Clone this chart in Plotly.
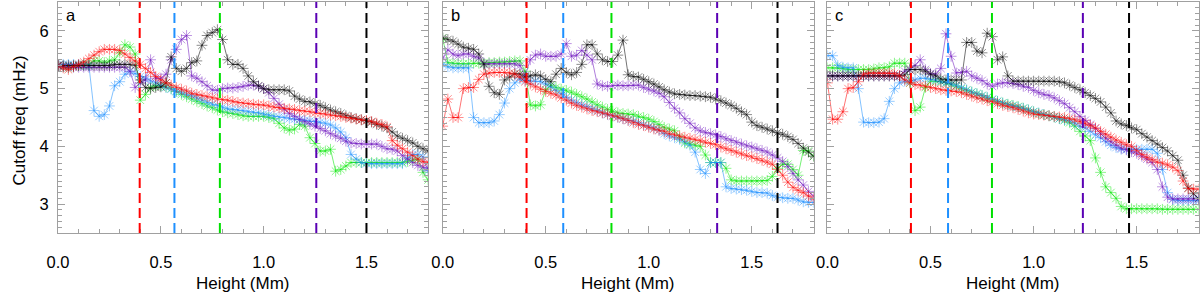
import plotly.graph_objects as go

# ---------------- data ----------------
HEIGHT = [0.0, 0.025, 0.05, 0.075, 0.1, 0.125, 0.15, 0.175, 0.2, 0.225,
          0.25, 0.275, 0.3, 0.325, 0.35, 0.375, 0.4, 0.425, 0.45, 0.475,
          0.5, 0.525, 0.55, 0.575, 0.6, 0.625, 0.65, 0.675, 0.7, 0.725,
          0.75, 0.775, 0.8, 0.825, 0.85, 0.875, 0.9, 0.925, 0.95, 0.975,
          1.0, 1.025, 1.05, 1.075, 1.1, 1.125, 1.15, 1.175, 1.2, 1.225,
          1.25, 1.275, 1.3, 1.325, 1.35, 1.375, 1.4, 1.425, 1.45, 1.475,
          1.5, 1.525, 1.55, 1.575, 1.6, 1.625, 1.65, 1.675, 1.7, 1.725,
          1.75, 1.775, 1.8]

# panel a
A_BLACK = [5.40, 5.40, 5.40, 5.40, 5.40, 5.40, 5.40, 5.40, 5.40, 5.40,
           5.40, 5.42, 5.42, 5.42, 5.42, 5.40, 5.15, 5.02, 5.00, 5.02,
           5.03, 5.10, 5.55, 5.35, 5.30, 5.35, 5.45, 5.48, 5.75, 5.92,
           5.97, 6.02, 5.85, 5.50, 5.42, 5.42, 5.35, 5.22, 5.12, 5.05,
           5.00, 4.98, 4.98, 4.98, 4.98, 4.96, 4.87, 4.82, 4.78, 4.77,
           4.74, 4.71, 4.67, 4.63, 4.60, 4.57, 4.53, 4.50, 4.48, 4.46,
           4.44, 4.42, 4.38, 4.35, 4.32, 4.25, 4.18, 4.14, 4.10, 4.06,
           4.00, 3.96, 3.92]
A_PURPLE = [5.40, 5.38, 5.37, 5.37, 5.37, 5.37, 5.37, 5.37, 5.37, 5.37,
            5.37, 5.37, 5.37, 5.37, 5.30, 5.02, 5.10, 5.15, 5.50, 5.18,
            5.18, 5.25, 5.50, 5.68, 5.85, 5.92, 5.22, 5.18, 5.12, 5.05,
            4.98, 4.97, 5.00, 5.01, 5.01, 5.02, 5.04, 5.06, 5.06, 5.04,
            5.00, 4.93, 4.83, 4.73, 4.64, 4.57, 4.52, 4.47, 4.43, 4.39,
            4.35, 4.31, 4.27, 4.22, 4.18, 4.14, 4.09, 4.06, 4.05, 4.04,
            4.04, 4.04, 4.04, 4.00, 3.96, 3.95, 3.92, 3.84, 3.78, 3.72,
            3.67, 3.64, 3.62]
A_GREEN = [5.40, 5.38, 5.36, 5.38, 5.40, 5.42, 5.42, 5.48, 5.48, 5.45,
           5.48, 5.50, 5.62, 5.76, 5.72, 5.60, 4.80, 4.90, 5.02, 5.05,
           5.05, 5.03, 5.00, 4.95, 4.90, 4.86, 4.82, 4.78, 4.74, 4.70,
           4.67, 4.63, 4.60, 4.58, 4.57, 4.55, 4.53, 4.52, 4.52, 4.52,
           4.52, 4.50, 4.48, 4.40, 4.32, 4.28, 4.30, 4.38, 4.35, 4.15,
           4.05, 3.92, 3.92, 3.95, 3.57, 3.60, 3.66, 3.72, 3.72, 3.72,
           3.72, 3.72, 3.72, 3.72, 3.72, 3.72, 3.72, 3.72, 3.74, 3.76,
           3.78, 3.55, 3.42]
A_BLUE = [5.40, 5.42, 5.42, 5.42, 5.42, 5.41, 5.40, 4.62, 4.52, 4.55,
          4.70, 5.05, 5.12, 5.25, 5.30, 5.26, 5.21, 5.17, 5.13, 5.10,
          5.06, 5.02, 4.99, 4.96, 4.93, 4.90, 4.88, 4.84, 4.80, 4.76,
          4.73, 4.71, 4.68, 4.65, 4.64, 4.63, 4.62, 4.60, 4.59, 4.58,
          4.56, 4.54, 4.52, 4.51, 4.50, 4.48, 4.47, 4.46, 4.45, 4.44,
          4.43, 4.42, 4.40, 4.37, 4.32, 4.25, 4.15, 3.86, 3.78, 3.72,
          3.70, 3.70, 3.70, 3.70, 3.70, 3.70, 3.70, 3.70, 3.80, 3.86,
          3.86, 3.82, 3.58]
A_RED = [5.40, 5.36, 5.33, 5.38, 5.42, 5.46, 5.52, 5.58, 5.64, 5.68,
         5.68, 5.68, 5.66, 5.60, 5.54, 5.48, 5.42, 5.35, 5.28, 5.21,
         5.15, 5.10, 5.06, 5.02, 4.99, 4.96, 4.92, 4.90, 4.88, 4.86,
         4.84, 4.82, 4.81, 4.80, 4.78, 4.76, 4.75, 4.74, 4.73, 4.72,
         4.72, 4.70, 4.68, 4.67, 4.66, 4.65, 4.64, 4.62, 4.61, 4.60,
         4.58, 4.57, 4.56, 4.54, 4.53, 4.52, 4.50, 4.49, 4.47, 4.46,
         4.45, 4.43, 4.40, 4.38, 4.34, 4.10, 4.02, 3.96, 3.90, 3.84,
         3.78, 3.74, 3.72]

# panel b
B_BLACK = [5.88, 5.85, 5.82, 5.77, 5.72, 5.70, 5.68, 5.60, 5.42, 5.04,
           4.93, 4.90, 5.15, 5.20, 5.26, 5.25, 5.20, 5.22, 5.24, 5.22,
           5.16, 5.12, 5.25, 5.35, 5.28, 5.24, 5.28, 5.42, 5.76, 5.76,
           5.60, 5.50, 5.47, 5.47, 5.58, 5.84, 5.24, 5.21, 5.20, 5.16,
           5.12, 5.08, 5.03, 4.98, 4.94, 4.91, 4.90, 4.89, 4.88, 4.88,
           4.87, 4.86, 4.85, 4.82, 4.79, 4.75, 4.71, 4.66, 4.60, 4.55,
           4.42, 4.36, 4.33, 4.30, 4.27, 4.24, 4.21, 4.17, 4.12, 4.05,
           3.97, 3.90, 3.83]
B_PURPLE = [5.53, 5.67, 5.60, 5.57, 5.60, 5.60, 5.56, 5.53, 5.43, 5.43,
            5.43, 5.43, 5.43, 5.43, 5.43, 5.40, 5.22, 5.50, 5.58, 5.60,
            5.56, 5.56, 5.56, 5.60, 5.78, 5.56, 5.58, 5.66, 5.58, 5.50,
            5.08, 5.05, 5.04, 5.05, 5.06, 5.05, 5.05, 5.06, 5.06, 5.02,
            4.99, 4.96, 4.92, 4.86, 4.76, 4.66, 4.58, 4.48, 4.40, 4.32,
            4.27, 4.24, 4.22, 4.20, 4.17, 4.13, 4.10, 4.07, 4.04, 4.01,
            3.99, 3.96, 3.93, 3.90, 3.85, 3.80, 3.74, 3.65, 3.53, 3.42,
            3.33, 3.22, 3.14]
B_GREEN = [5.87, 5.45, 5.44, 5.43, 5.43, 5.43, 5.44, 5.44, 5.44, 5.45,
           5.45, 5.46, 5.46, 5.47, 5.48, 5.48, 5.30, 4.72, 4.70, 4.72,
           4.98, 5.06, 5.02, 4.99, 4.97, 4.94, 4.90, 4.86, 4.82, 4.77,
           4.72, 4.68, 4.64, 4.61, 4.58, 4.57, 4.56, 4.55, 4.52, 4.50,
           4.47, 4.43, 4.38, 4.33, 4.30, 4.27, 4.15, 4.06, 4.04, 4.02,
           4.00, 3.85, 3.72, 3.72, 3.72, 3.62, 3.42, 3.40, 3.40, 3.40,
           3.40, 3.40, 3.40, 3.41, 3.48, 3.62, 3.69, 3.69, 3.60, 3.50,
           3.93, 3.92, 3.83]
B_BLUE = [5.42, 5.38, 5.36, 5.36, 5.36, 5.36, 4.50, 4.41, 4.41, 4.41,
          4.44, 4.55, 4.75, 5.00, 5.10, 5.17, 5.14, 5.13, 5.13, 5.12,
          5.08, 5.03, 4.97, 4.91, 4.85, 4.80, 4.76, 4.72, 4.69, 4.65,
          4.62, 4.58, 4.55, 4.53, 4.50, 4.48, 4.45, 4.44, 4.41, 4.37,
          4.35, 4.32, 4.28, 4.22, 4.18, 4.15, 4.12, 4.08, 4.02, 3.90,
          3.60, 3.53, 3.72, 3.72, 3.72, 3.30, 3.27, 3.26, 3.25, 3.24,
          3.22, 3.20, 3.20, 3.19, 3.15, 3.12, 3.11, 3.10, 3.10, 3.07,
          3.04, 3.03, 3.03]
B_RED = [4.35, 4.82, 4.50, 4.50, 5.00, 5.02, 5.02, 5.16, 5.25, 5.27,
         5.28, 5.28, 5.28, 5.27, 5.25, 5.20, 5.12, 5.08, 5.03, 4.99,
         4.95, 4.92, 4.89, 4.84, 4.80, 4.75, 4.71, 4.68, 4.65, 4.62,
         4.60, 4.58, 4.56, 4.53, 4.51, 4.48, 4.45, 4.41, 4.38, 4.36,
         4.33, 4.30, 4.28, 4.26, 4.22, 4.20, 4.18, 4.16, 4.14, 4.12,
         4.10, 4.07, 4.05, 4.03, 3.99, 3.96, 3.93, 3.90, 3.87, 3.84,
         3.82, 3.79, 3.76, 3.73, 3.69, 3.60, 3.50, 3.38, 3.29, 3.24,
         3.20, 3.14, 3.09]

# panel c
C_BLACK = [5.22, 5.22, 5.22, 5.22, 5.22, 5.22, 5.22, 5.22, 5.22, 5.22,
           5.22, 5.22, 5.22, 5.22, 5.22, 5.24, 5.33, 5.33, 5.33, 5.30,
           5.25, 5.22, 5.17, 5.15, 5.15, 5.15, 5.15, 5.80, 5.80, 5.65,
           5.62, 5.96, 5.90, 5.50, 5.55, 5.22, 5.13, 5.13, 5.13, 5.13,
           5.13, 5.13, 5.13, 5.13, 5.13, 5.12, 5.10, 5.06, 5.02, 4.98,
           4.93, 4.88, 4.83, 4.77, 4.68, 4.58, 4.44, 4.39, 4.36, 4.32,
           4.29, 4.22, 4.16, 4.10, 4.04, 3.98, 3.92, 3.84, 3.76, 3.50,
           3.28, 3.18, 3.10]
C_PURPLE = [5.22, 5.22, 5.22, 5.22, 5.22, 5.22, 5.22, 5.22, 5.22, 5.22,
            5.22, 5.22, 5.22, 5.22, 5.22, 5.30, 5.33, 5.40, 5.50, 5.33,
            5.26, 5.25, 5.35, 5.95, 5.56, 5.27, 5.28, 5.30, 5.22, 5.18,
            5.14, 5.08, 5.04, 5.08, 5.10, 5.10, 5.09, 5.07, 5.04, 5.02,
            4.97, 4.93, 4.90, 4.88, 4.84, 4.79, 4.74, 4.67, 4.60, 4.52,
            4.45, 4.38, 4.31, 4.22, 4.14, 4.08, 4.02, 3.97, 3.94, 3.91,
            3.88, 3.83, 3.78, 3.72, 3.60, 3.30, 3.12, 3.09, 3.09, 3.09,
            3.09, 3.09, 3.09]
C_GREEN = [5.36, 5.36, 5.36, 5.35, 5.33, 5.33, 5.33, 5.33, 5.33, 5.34,
           5.36, 5.36, 5.38, 5.44, 5.44, 5.44, 5.10, 4.62, 4.68, 5.02,
           5.13, 5.13, 5.12, 5.10, 5.07, 5.04, 5.00, 4.97, 4.94, 4.91,
           4.88, 4.84, 4.81, 4.78, 4.75, 4.73, 4.71, 4.69, 4.66, 4.63,
           4.60, 4.57, 4.55, 4.53, 4.51, 4.48, 4.45, 4.41, 4.35, 4.26,
           4.18, 4.10, 3.80, 3.55, 3.30, 3.20, 3.10, 2.96, 2.92, 2.92,
           2.92, 2.92, 2.92, 2.92, 2.92, 2.91, 2.91, 2.91, 2.91, 2.91,
           2.91, 2.91, 2.91]
C_BLUE = [5.57, 5.57, 5.40, 5.37, 5.36, 5.36, 5.00, 4.42, 4.41, 4.41,
          4.42, 4.48, 4.78, 5.00, 5.10, 5.13, 5.13, 5.15, 5.18, 5.18,
          5.16, 5.15, 5.12, 5.10, 5.08, 5.05, 5.02, 4.98, 4.94, 4.91,
          4.88, 4.85, 4.82, 4.78, 4.75, 4.72, 4.70, 4.68, 4.66, 4.63,
          4.60, 4.58, 4.55, 4.53, 4.51, 4.48, 4.46, 4.44, 4.40, 4.35,
          4.32, 4.26, 4.20, 4.15, 4.08, 4.02, 3.98, 3.95, 3.95, 3.95,
          3.95, 3.95, 3.95, 3.95, 3.88, 3.60, 3.20, 3.08, 3.06, 3.06,
          3.06, 3.06, 3.06]
C_RED = [5.10, 4.47, 4.47, 4.60, 5.00, 5.02, 5.12, 5.25, 5.27, 5.27,
         5.27, 5.27, 5.27, 5.26, 5.22, 5.15, 5.10, 5.07, 5.06, 5.04,
         5.02, 5.00, 4.98, 4.97, 4.96, 4.95, 4.93, 4.90, 4.87, 4.84,
         4.82, 4.79, 4.77, 4.74, 4.71, 4.69, 4.67, 4.64, 4.61, 4.58,
         4.56, 4.55, 4.54, 4.53, 4.52, 4.51, 4.50, 4.48, 4.46, 4.43,
         4.40, 4.36, 4.32, 4.26, 4.21, 4.16, 4.11, 4.07, 4.03, 4.00,
         3.93, 3.86, 3.81, 3.77, 3.73, 3.71, 3.68, 3.64, 3.58, 3.40,
         3.27, 3.26, 3.26]

# vertical reference heights (Mm): red, blue, green, purple, black
A_VLINES = [0.397, 0.566, 0.787, 1.256, 1.50]
B_VLINES = [0.407, 0.585, 0.819, 1.332, 1.625]
C_VLINES = [0.405, 0.585, 0.798, 1.239, 1.463]

PANEL_LABELS = ["a", "b", "c"]
X_TITLE = "Height (Mm)"
Y_TITLE = "Cutoff freq (mHz)"

# ---------------- style ----------------
SERIES_ORDER = ["green", "blue", "purple", "black", "red"]
RGB = {
    "black": (0, 0, 0),
    "purple": (110, 20, 190),
    "green": (0, 230, 0),
    "blue": (30, 144, 255),
    "red": (255, 0, 0),
}
VLINE_COLORS = ["#ff0000", "#1e90ff", "#00e000", "#5a00b4", "#000000"]
FRAME = "#a0a0a0"
FONT = "Liberation Sans, Arial, Helvetica, sans-serif"
TICK_SIZE = 16.5
TITLE_SIZE = 17

panels = [
    {"black": A_BLACK, "purple": A_PURPLE, "green": A_GREEN, "blue": A_BLUE, "red": A_RED, "vlines": A_VLINES},
    {"black": B_BLACK, "purple": B_PURPLE, "green": B_GREEN, "blue": B_BLUE, "red": B_RED, "vlines": B_VLINES},
    {"black": C_BLACK, "purple": C_PURPLE, "green": C_GREEN, "blue": C_BLUE, "red": C_RED, "vlines": C_VLINES},
]

W, H = 1200, 294
x_domains = [(47.5 / W, 421.0 / W), (435.7 / W, 810.0 / W), (824.0 / W, 1198.5 / W)]
y_domain = (1 - 233.0 / H, 1 - 2.0 / H)

fig = go.Figure()

for p, panel in enumerate(panels):
    sfx = "" if p == 0 else str(p + 1)
    for name in SERIES_ORDER:
        r, g, b = RGB[name]
        fig.add_trace(go.Scatter(
            x=HEIGHT, y=panel[name], mode="lines+markers",
            xaxis="x" + sfx, yaxis="y" + sfx,
            line=dict(color=f"rgba({r},{g},{b},0.55)", width=1),
            marker=dict(symbol="asterisk-open", size=9,
                        color=f"rgba({r},{g},{b},0.45)",
                        line=dict(color=f"rgba({r},{g},{b},0.45)", width=1)),
            showlegend=False, hoverinfo="skip",
        ))

layout = dict(
    width=W, height=H, margin=dict(l=0, r=0, t=0, b=0),
    paper_bgcolor="white", plot_bgcolor="white",
    font=dict(family=FONT, size=TICK_SIZE, color="black"),
    showlegend=False,
)

shapes = []
annotations = []
for p, panel in enumerate(panels):
    sfx = "" if p == 0 else str(p + 1)
    xa = dict(
        domain=list(x_domains[p]), anchor="y" + sfx, range=[0, 1.8],
        tick0=0, dtick=0.5, tickformat=".1f",
        ticks="inside", ticklen=7, tickwidth=1, tickcolor=FRAME,
        showline=True, linecolor=FRAME, linewidth=1, mirror="allticks",
        showgrid=False, zeroline=False,
        tickfont=dict(family=FONT, size=TICK_SIZE, color="black"),
        ticklabelstandoff=14,
        minor=dict(dtick=0.1, ticks="inside", ticklen=4, tickcolor=FRAME, showgrid=False),
    )
    ya = dict(
        domain=list(y_domain), anchor="x" + sfx, range=[2.5, 6.5],
        tick0=0, dtick=1,
        ticks="inside", ticklen=7, tickwidth=1, tickcolor=FRAME,
        showline=True, linecolor=FRAME, linewidth=1, mirror="allticks",
        showgrid=False, zeroline=False, showticklabels=(p == 0),
        tickfont=dict(family=FONT, size=TICK_SIZE, color="black"),
        ticklabelstandoff=5,
        minor=dict(dtick=0.1, ticks="inside", ticklen=4, tickcolor=FRAME, showgrid=False),
    )
    layout["xaxis" + sfx] = xa
    layout["yaxis" + sfx] = ya

    for xv, col in zip(panel["vlines"], VLINE_COLORS):
        shapes.append(dict(type="line", xref="x" + sfx, yref="y" + sfx + " domain",
                           x0=xv, x1=xv, y0=0, y1=1,
                           line=dict(color=col, width=2, dash="10px,5px")))

    annotations.append(dict(text=PANEL_LABELS[p], xref="x" + sfx + " domain", yref="paper",
                            x=0, xshift=6, y=1 - 14.5 / H, xanchor="left", yanchor="middle",
                            showarrow=False, font=dict(family=FONT, size=TICK_SIZE, color="black")))
    annotations.append(dict(text=X_TITLE, xref="paper", yref="paper",
                            x=(x_domains[p][0] + x_domains[p][1]) / 2, y=1 - 283.0 / H,
                            xanchor="center", yanchor="middle", showarrow=False,
                            font=dict(family=FONT, size=TITLE_SIZE, color="black")))

annotations.append(dict(text=Y_TITLE, xref="paper", yref="paper", x=8.5 / W, y=1 - 120.0 / H,
                        xanchor="center", yanchor="middle", textangle=-90, showarrow=False,
                        font=dict(family=FONT, size=TITLE_SIZE, color="black")))

layout["shapes"] = shapes
layout["annotations"] = annotations
fig.update_layout(**layout)

fig.write_html("out.html", config={"displayModeBar": False},
               post_script="document.body.style.margin='0';document.body.style.overflow='hidden';")
